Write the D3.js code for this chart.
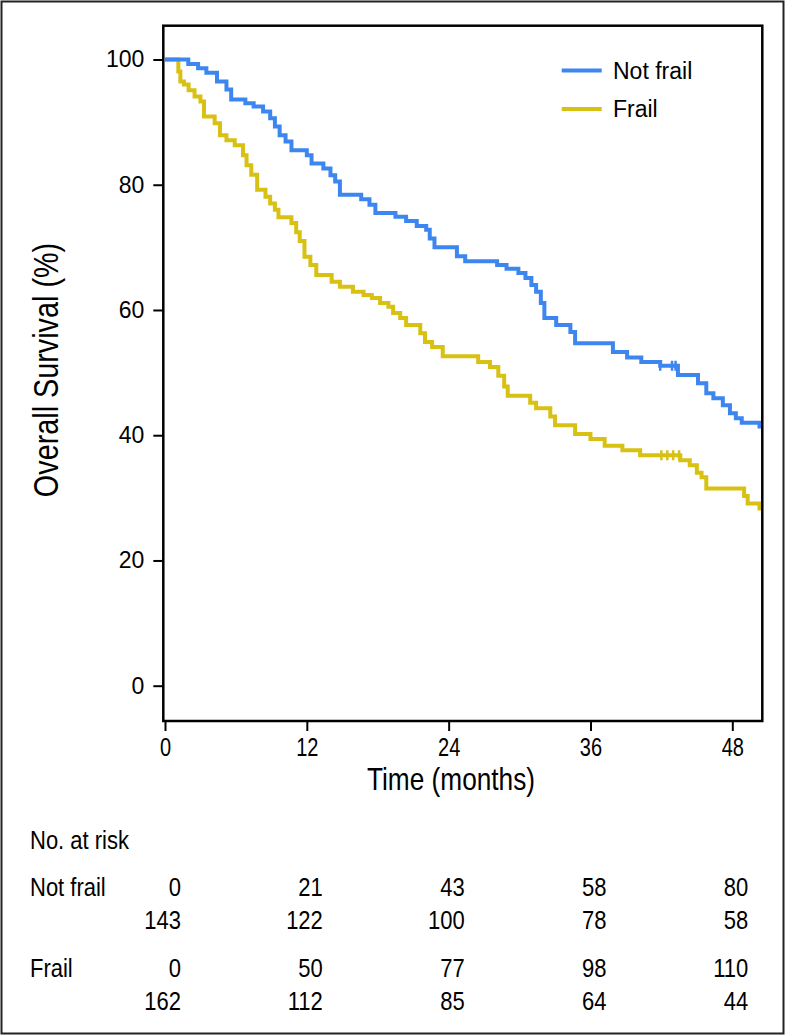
<!DOCTYPE html>
<html>
<head>
<meta charset="utf-8">
<script src="https://cdn.jsdelivr.net/npm/d3@7"></script>
<style>
  html, body { margin: 0; padding: 0; background: #fff; }
  svg { display: block; }
  text { font-family: "Liberation Sans", Arial, sans-serif; }
</style>
</head>
<body>
<svg id="chart" width="789" height="1036"></svg>
<script>
// ---- Data ----
const seriesNames = ["Not frail", "Frail"];
const notFrailTimes = [0, 1.97, 2.8, 3.5, 4.4, 5.2, 5.6, 6.8, 7.5, 8.3, 8.9, 9.3, 9.7, 10.2, 10.7, 12.0, 12.4, 13.4, 14.0, 14.4, 14.8, 16.6, 17.3, 17.8, 19.5, 20.4, 21.3, 22.1, 22.4, 22.8, 24.7, 25.4, 28.1, 28.9, 29.9, 30.5, 31.0, 31.4, 31.8, 32.1, 33.1, 34.3, 34.7, 37.9, 39.1, 40.3, 41.9, 43.4, 45.1, 45.8, 46.4, 47.2, 47.8, 48.3, 48.8, 50.3];
const notFrailSurv  = [100, 99.3, 98.6, 97.9, 96.5, 95.2, 93.6, 93.0, 92.5, 91.7, 90.6, 89.3, 87.9, 86.9, 85.5, 84.7, 83.4, 82.6, 81.5, 80.5, 78.4, 77.7, 76.8, 75.5, 74.9, 74.2, 73.4, 72.8, 71.4, 70.0, 68.6, 67.8, 67.2, 66.6, 65.9, 65.1, 64.0, 62.9, 61.1, 58.7, 57.6, 56.5, 54.7, 53.3, 52.4, 51.7, 51.1, 49.6, 48.3, 46.7, 45.9, 44.8, 43.5, 42.7, 42.0, 41.4];
const frailTimes = [0, 1.13, 1.3, 1.6, 2.0, 2.5, 3.0, 3.3, 4.2, 4.65, 5.2, 5.9, 6.6, 6.9, 7.3, 7.8, 8.5, 8.9, 9.3, 9.6, 10.7, 11.1, 11.4, 11.8, 12.3, 12.8, 14.1, 14.8, 15.9, 16.8, 17.5, 18.2, 18.9, 19.3, 19.9, 20.4, 21.6, 22.0, 22.6, 23.5, 26.5, 27.5, 28.2, 28.7, 29.0, 30.9, 31.4, 32.6, 33.0, 34.7, 36.0, 37.2, 38.7, 40.2, 43.6, 44.4, 45.0, 45.4, 45.8, 49.0, 49.3, 50.3];
const frailSurv  = [100, 98.1, 96.5, 96.0, 95.1, 94.1, 93.3, 90.9, 89.8, 87.9, 87.1, 86.3, 84.7, 83.1, 81.6, 79.2, 78.1, 77.0, 76.0, 74.8, 73.9, 72.4, 71.0, 68.5, 67.2, 65.6, 64.5, 63.7, 62.9, 62.4, 61.9, 61.1, 60.5, 59.5, 58.7, 57.6, 56.3, 54.9, 54.1, 52.6, 51.7, 50.9, 49.5, 47.8, 46.3, 45.2, 44.3, 43.0, 41.6, 40.2, 39.4, 38.3, 37.6, 36.8, 36.0, 35.2, 34.0, 33.3, 31.5, 30.3, 29.1, 28.3];
const notFrailCensorTimes = [41.9, 42.9, 43.2];
const frailCensorTimes = [42.0, 42.5, 43.0, 43.5];
const followUpEnd = 50.53;
const xTicks = [0, 12, 24, 36, 48];
const yTicks = [0, 20, 40, 60, 80, 100];
const riskTimes = [0, 12, 24, 36, 48];
const notFrailEvents = [0, 21, 43, 58, 80];
const notFrailAtRisk = [143, 122, 100, 78, 58];
const frailEvents = [0, 50, 77, 98, 110];
const frailAtRisk = [162, 112, 85, 64, 44];
const colors = ["#3d86f0", "#d8c112"];

// ---- Layout ----
const svg = d3.select("#chart");
const L = 163.3, R = 762.3, T = 25.7, B = 721;
const x = d3.scaleLinear().domain([0, 48]).range([165, 732.3]);
const y = d3.scaleLinear().domain([0, 100]).range([685.7, 59.5]);
const NARROW = 0.8;

function narrowText(parent, px, py, str, size, anchor, sx) {
  return parent.append("text")
    .attr("transform", `translate(${px},${py}) scale(${sx || NARROW},1)`)
    .attr("text-anchor", anchor || "start")
    .style("font-size", size + "px").attr("fill", "#000").text(str);
}

// outer frame
svg.append("rect").attr("x", 1.5).attr("y", 1.5).attr("width", 782).attr("height", 1032)
  .attr("fill", "none").attr("stroke", "#222").attr("stroke-width", 2);

// clip
svg.append("clipPath").attr("id", "clip").append("rect")
  .attr("x", L).attr("y", T).attr("width", R - L).attr("height", B - T);

// curves
function stepPoints(times, surv) {
  const pts = times.map((t, i) => [t, surv[i]]);
  pts.push([followUpEnd, surv[surv.length - 1]]);
  return pts;
}
const line = d3.line().x(d => x(d[0])).y(d => y(d[1])).curve(d3.curveStepAfter);
const series = [
  { times: notFrailTimes, surv: notFrailSurv, cens: notFrailCensorTimes },
  { times: frailTimes, surv: frailSurv, cens: frailCensorTimes }
];
const g = svg.append("g").attr("clip-path", "url(#clip)");
[1, 0].forEach(i => {
  const s = series[i];
  g.append("path").datum(stepPoints(s.times, s.surv))
    .attr("d", line).attr("fill", "none").attr("stroke", colors[i])
    .attr("stroke-width", 4).attr("stroke-linejoin", "miter");
  const survAt = t => { let v = s.surv[0]; s.times.forEach((tt, k) => { if (tt <= t) v = s.surv[k]; }); return v; };
  g.selectAll(null).data(s.cens).enter().append("line")
    .attr("x1", d => x(d)).attr("x2", d => x(d))
    .attr("y1", d => y(survAt(d)) - 5).attr("y2", d => y(survAt(d)) + 5)
    .attr("stroke", colors[i]).attr("stroke-width", 2.5);
});

// plot box
svg.append("rect").attr("x", L).attr("y", T).attr("width", R - L).attr("height", B - T)
  .attr("fill", "none").attr("stroke", "#000").attr("stroke-width", 2.5);

// y axis
const yAxis = d3.axisLeft(y).tickValues(yTicks).tickSize(10).tickPadding(9).tickFormat(d3.format("d"));
const ya = svg.append("g").attr("transform", `translate(${L},0)`).call(yAxis);
ya.attr("font-size", null).attr("font-family", null);
ya.select(".domain").remove();
ya.selectAll(".tick line").attr("stroke", "#000").attr("stroke-width", 2);
ya.selectAll(".tick text").style("font-size", "23px").attr("fill", "#000");

// x axis
const xAxis = d3.axisBottom(x).tickValues(xTicks).tickSize(10).tickPadding(8).tickFormat(d3.format("d"));
const xa = svg.append("g").attr("transform", `translate(0,${B})`).call(xAxis);
xa.attr("font-size", null).attr("font-family", null);
xa.select(".domain").remove();
xa.selectAll(".tick line").attr("stroke", "#000").attr("stroke-width", 2);
xa.selectAll(".tick text").style("font-size", "25px").attr("fill", "#000")
  .attr("dy", null).attr("y", 35).attr("transform", "scale(0.8,1)");

// axis titles
narrowText(svg, 451, 790, "Time (months)", 32, "middle", 0.82);
svg.append("text")
  .attr("transform", "translate(58,370) rotate(-90) scale(0.8,1)")
  .attr("text-anchor", "middle").style("font-size", "36px").attr("fill", "#000").text("Overall Survival (%)");

// legend
const legY = [70.5, 109];
seriesNames.forEach((n, i) => {
  svg.append("line").attr("x1", 561.7).attr("x2", 601.7).attr("y1", legY[i]).attr("y2", legY[i])
    .attr("stroke", colors[i]).attr("stroke-width", 4);
  svg.append("text").attr("x", 613).attr("y", legY[i] + 8)
    .style("font-size", "23px").attr("fill", "#000").text(n);
});

// risk table
const rt = svg.append("g");
const RT_SIZE = 25, RT_SX = 0.88;
narrowText(rt, 30, 849, "No. at risk", RT_SIZE, "start", RT_SX);
const rows = [
  { label: "Not frail", vals: notFrailEvents, y: 896 },
  { label: null, vals: notFrailAtRisk, y: 929 },
  { label: "Frail", vals: frailEvents, y: 977 },
  { label: null, vals: frailAtRisk, y: 1010 }
];
rows.forEach(r => {
  if (r.label) narrowText(rt, 30, r.y, r.label, RT_SIZE, "start", RT_SX);
  riskTimes.forEach((t, i) => narrowText(rt, x(t) + 16, r.y, String(r.vals[i]), RT_SIZE, "end", RT_SX));
});
</script>
</body>
</html>
